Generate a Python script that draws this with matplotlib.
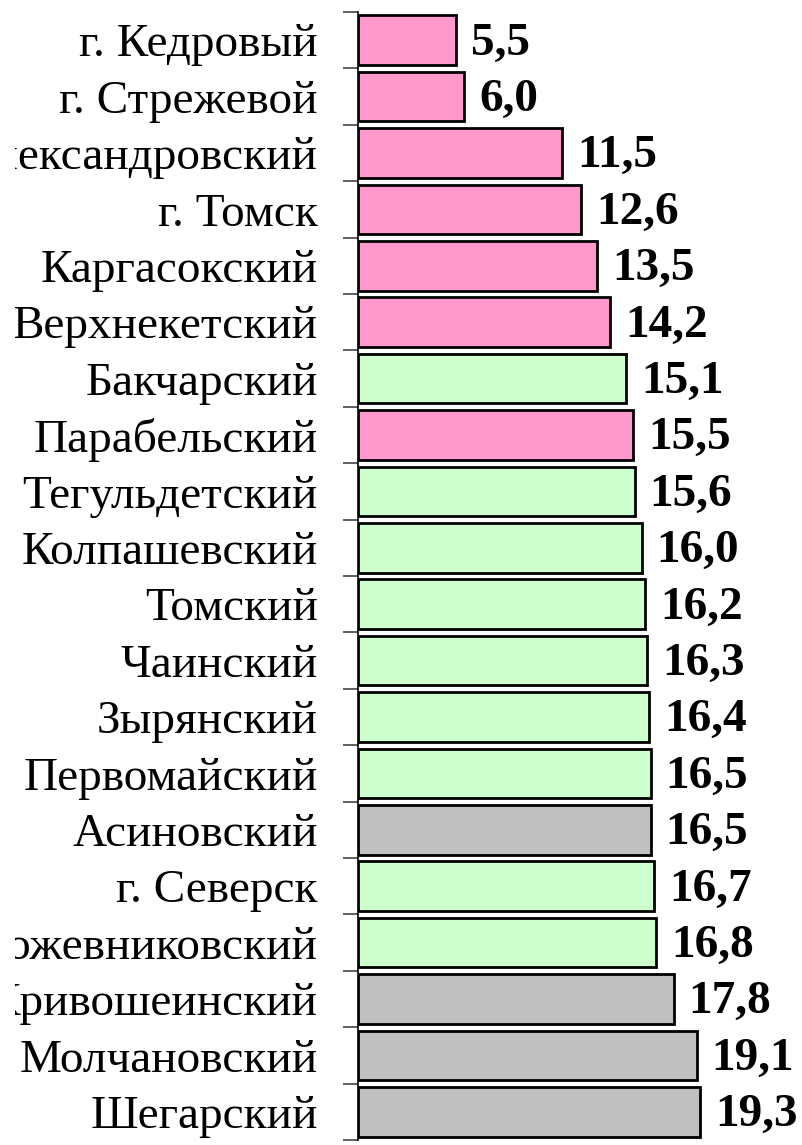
import matplotlib.pyplot as plt
import numpy as np
from matplotlib.transforms import Bbox

# Districts, top to bottom
districts = ["г. Кедровый", "г. Стрежевой", "Александровский", "г. Томск",
             "Каргасокский", "Верхнекетский", "Бакчарский", "Парабельский",
             "Тегульдетский", "Колпашевский", "Томский", "Чаинский",
             "Зырянский", "Первомайский", "Асиновский", "г. Северск",
             "Кожевниковский", "Кривошеинский", "Молчановский", "Шегарский"]
values = [5.5, 6.0, 11.5, 12.6, 13.5, 14.2, 15.1, 15.5, 15.6, 16.0,
          16.2, 16.3, 16.4, 16.5, 16.5, 16.7, 16.8, 17.8, 19.1, 19.3]
groups = ["p", "p", "p", "p", "p", "p", "g", "p", "g", "g",
          "g", "g", "g", "g", "s", "g", "g", "s", "s", "s"]

colors = {"p": "#FF99CC", "g": "#CCFFCC", "s": "#C0C0C0"}

fig = plt.figure(figsize=(8.03, 11.45), dpi=100)
ax = fig.add_axes([358 / 803, 5 / 1145, 445 / 803, 1128 / 1145])

y = np.arange(len(districts))
ax.barh(y, values, height=0.88, color=[colors[g] for g in groups],
        edgecolor="black", linewidth=2)

for yi, v in zip(y, values):
    ax.text(v + 0.85, yi + 0.06, f"{v:.1f}".replace(".", ","), va="center", ha="left",
            fontsize=34, fontweight="bold", family="Liberation Serif")

ax.set_xlim(0, 25.1)
ax.set_ylim(len(districts) - 0.5, -0.5)

ax.set_yticks(y)
ax.set_yticklabels(districts, family="Liberation Serif", fontsize=34)
ax.tick_params(axis="y", length=0, pad=29)
ax.set_yticks(np.arange(-0.5, len(districts)), minor=True)
ax.tick_params(axis="y", which="minor", length=11, width=1.2, color="#444444")
ax.set_xticks([])

# the original picture cuts the long names a little in from the left edge
clip = Bbox([[15, 0], [803, 1145]])
for lab in ax.get_yticklabels():
    lab.set_clip_on(True)
    lab.set_clip_box(clip)

for s in ["top", "right", "bottom"]:
    ax.spines[s].set_visible(False)
ax.spines["left"].set_linewidth(1.2)

fig.savefig("out.png", dpi=100)
